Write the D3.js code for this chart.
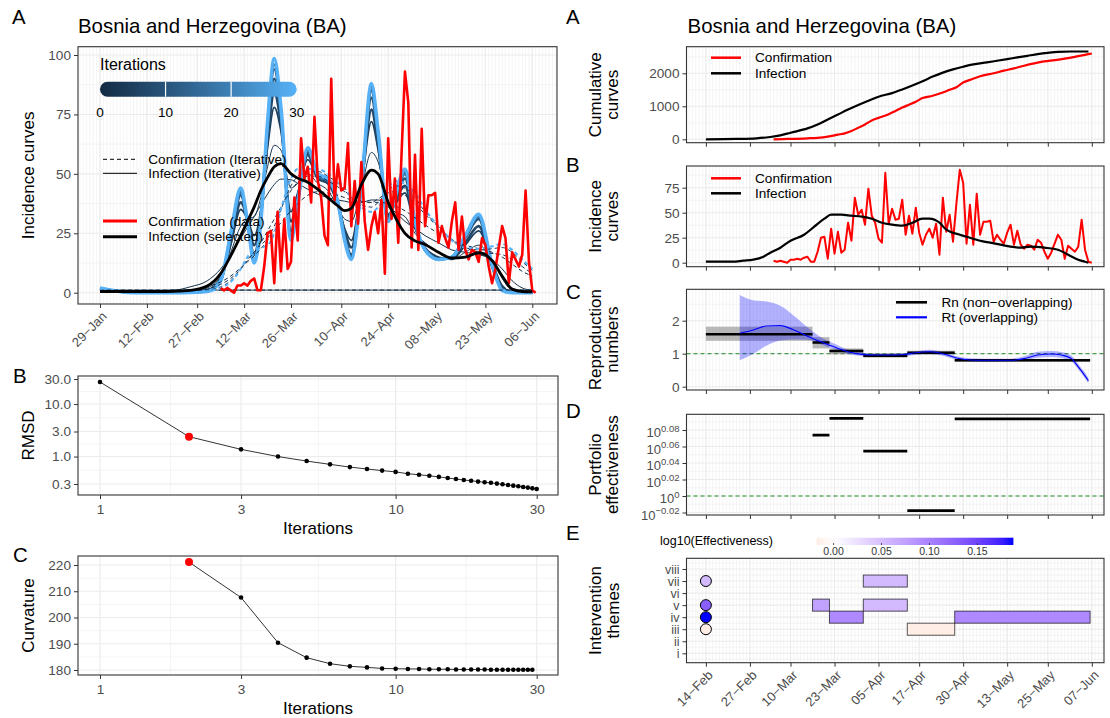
<!DOCTYPE html>
<html>
<head>
<meta charset="utf-8">
<title>Bosnia and Herzegovina (BA)</title>
<script src="https://cdn.jsdelivr.net/npm/d3@7/dist/d3.min.js"></script>
<style>
  body { margin: 0; background: #fff; }
  svg { display: block; }
</style>
</head>
<body>
<svg id="chart" width="1110" height="718"></svg>
<script>
// ---------------- data ----------------
const countryTitle = "Bosnia and Herzegovina (BA)";

// left A: iterative curves, read at these dates
const iterKnotDates = ["2020-01-29","2020-02-08","2020-02-15","2020-02-20","2020-02-25","2020-03-01","2020-03-05","2020-03-08","2020-03-11","2020-03-13",
  "2020-03-15","2020-03-17","2020-03-19","2020-03-21","2020-03-23","2020-03-26","2020-03-28","2020-03-31","2020-04-03","2020-04-06",
  "2020-04-09","2020-04-11","2020-04-13","2020-04-16","2020-04-19","2020-04-21","2020-04-24","2020-04-26","2020-04-29","2020-05-02",
  "2020-05-05","2020-05-09","2020-05-13","2020-05-17","2020-05-21","2020-05-25","2020-05-28","2020-05-31","2020-06-03","2020-06-06"];
const infectionIt0 = [1.1,1.1,1.1,1.1,1.1,1.1,1.1,1.1,1.1,1.1,1.1,1.1,1.1,1.1,1.1,1.1,1.1,1.1,1.1,1.1,1.1,1.1,1.1,1.1,1.1,1.1,1.1,1.1,1.1,1.1,1.1,1.1,1.1,1.1,1.1,1.1,1.1,1.1,1.1,1.1];
const infectionIt1 = [0.2,0.4,0.7,1.0,2.5,5,10,16,23,27.5,32,37,41.5,45.5,47.8,47.5,46,43.5,41.5,40,39,38.5,38,38,39,39,36,34,30,27,24,21,18,17,16,14,10,5,2,1];
const infectionIt2 = [0.5,0.5,0.5,0.6,1.0,2.8,8,15.5,24,30,36,43,48.5,53,54.3,50,48.2,46.5,43.5,40,36.5,34.5,35.5,45.5,51.6,50,38,32,25,21.8,20.3,17,14.6,15,16.8,13.5,7,1.5,0.5,0.4];
const infectionIt3 = [0.8,0.3,0.2,0.3,0.6,2,7,17,28,31,32,40,53,62,60,44,46,50,46,43,36,31,30,44,59,55,37,34,32,25,21,17,14,17,20,14,6,1,0.3,0.2];
const infectionIt5 = [1.2,0.2,0.1,0.1,0.3,1.2,6,20,35,31,24,35,61,78,68,34,42,56,48,46,37,27,22,45,72,60,33,37,42,27,19,15,14,20,26,13,3,0.3,0.1,0.1];
const infectionIt7 = [1.4,0.15,0.05,0.05,0.25,1,5.5,21,38,31,20,33,64,84,71,30,40,58,48,46,37,26,19,45,77,62,32,38,45,28,18.5,14.5,14.5,21,28,12,2,0.2,0.05,0.05];
const infectionIt10 = [1.7,0.1,0,0,0.2,0.8,5,23,41,30,16,32,68,90,74,26,39,59,49,47,38,24,16,46,82,65,31,39,48,29,18,14,15,23,31,11,1.5,0.1,0,0];
const infectionIt15 = [1.8,0.05,0,0,0.15,0.6,5,24,42,30,14,31,70,94,76,24,38,60,49,47,38,23,15,45,85,66,30,39,50,29,18,14,15,23.5,32,11.5,1.2,0.05,0,0];
const infectionIt20 = [1.9,0,0,0,0.1,0.55,5,24.5,43,30,13,30.5,71,96,77,23,38,60.5,49.5,47.5,38,22.5,14.5,45,86.5,67,30,39.5,51,29.5,18,14,15,24,32.5,12,1.1,0,0,0];
const infectionIt30 = [2,0,0,0,0.1,0.5,5,25,44,30,12.5,30,72,98.5,78,22,38,61,50,48,38,22,14,45,88,68,30,40,52,30,18,14,15,24,33,12,1,0,0,0];
const confirmIt0 = [1.1,1.1,1.1,1.1,1.1,1.1,1.1,1.1,1.1,1.1,1.1,1.1,1.1,1.1,1.1,1.1,1.1,1.1,1.1,1.1,1.1,1.1,1.1,1.1,1.1,1.1,1.1,1.1,1.1,1.1,1.1,1.1,1.1,1.1,1.1,1.1,1.1,1.1,1.1,1.1];
const confirmIt1 = [0.1,0.2,0.3,0.5,1,2.5,4.5,7,10.5,13,15.5,18.5,22,26,29.5,34.5,37.5,41,42.5,42,41,40,39,38,38,38,37.5,36.5,34.5,31.5,28.5,25,22,20,18.5,17,15,12,9,7];
const confirmIt2 = [0.3,0.3,0.3,0.4,0.6,1.5,3.5,6,10,13.5,17,21,26,31,36,43,46.5,49,49,47,44.5,42.5,40.5,38.5,38,39.5,42,42.5,41,37.5,33,27.5,22.5,19,17,16.5,16,14,11,8];
const confirmIt5 = [0.6,0.2,0.1,0.2,0.4,1,2.5,5,10,14,17,20,23,28,35,45,49,51,51,49,46,43,40,37,36,38,43,45,44,40,34,28,22,19,18,18.5,19,17,13,9.5];
const confirmIt30 = [1,0.1,0,0,0.2,0.6,2,4.5,10,15,18,19,20,25,35,48,52,52,52,50,47,44,40,36,34,36,44,47,46,42,35,28,22,19,18.5,19.5,20.5,18,14,10];
const selectedIter = 2;

// daily confirmed cases from 5 March
const confirmStart = "2020-03-05";
const confirmDaily = [2,1,2,1,0,3,3,4,3,5, 6,1,1,11,25,26,4,34,9,31, 10,13,40,22,65,48,53,38,74,47,
  40,24,20,90,39,54,43,44,63,28, 47,29,55,30,18,28,34,25,39,8, 65,31,48,21,59,93,80,19,58,18,
  69,28,41,41,42,21,28,23,19,30, 38,18,32,18,14,18,17,13,23,20, 11,4,10,19,28,23,4,17,14,11, 16,43,13,1,0];

const leftDateTicks = ["2020-01-29","2020-02-12","2020-02-27","2020-03-12","2020-03-26","2020-04-10","2020-04-24","2020-05-08","2020-05-23","2020-06-06"];
const iterLegendTicks = [0, 10, 20, 30];

// left B / C
const rmsdIter = [1,2,3,4,5,6,7,8,9,10,11,12,13,14,15,16,17,18,19,20,21,22,23,24,25,26,27,28,29,30];
const rmsdValues = [26.3,2.39,1.37,1.0,0.82,0.71,0.63,0.58,0.54,0.51,0.47,0.45,0.43,0.41,0.39,0.373,0.357,0.347,0.333,0.323,0.316,0.305,0.296,0.288,0.279,0.271,0.263,0.256,0.248,0.241];
const curvIter = [2,3,4,5,6,7,8,9,10,11,12,13,14,15,16,17,18,19,20,21,22,23,24,25,26,27,28,29];
const curvValues = [221.1,207.6,190.4,184.7,182.4,181.4,181.0,180.6,180.5,180.4,180.4,180.3,180.3,180.3,180.2,180.2,180.2,180.2,180.2,180.1,180.1,180.1,180.1,180.1,180.1,180.1,180.1,180.1];
const logIterTicks = [1, 3, 10, 30];
const rmsdTicks = [0.3, 1, 3, 10, 30];
const curvTicks = [180, 190, 200, 210, 220];

// right panels
const rightDateTicks = ["2020-02-14","2020-02-27","2020-03-10","2020-03-23","2020-04-05","2020-04-17","2020-04-30","2020-05-13","2020-05-25","2020-06-07"];
const cumInfDates = ["2020-02-14","2020-02-23","2020-02-29","2020-03-04","2020-03-07","2020-03-10","2020-03-15","2020-03-18","2020-03-21","2020-03-24","2020-03-27","2020-03-30","2020-04-02","2020-04-05","2020-04-09","2020-04-12","2020-04-15","2020-04-18","2020-04-21","2020-04-24","2020-04-27","2020-04-30","2020-05-03","2020-05-07","2020-05-10","2020-05-13","2020-05-16","2020-05-19","2020-05-22","2020-05-25","2020-05-28","2020-06-01","2020-06-06"];
const cumInfValues = [0,10,30,70,120,200,330,450,600,750,900,1040,1170,1290,1400,1510,1630,1760,1900,2020,2120,2200,2270,2330,2380,2430,2480,2530,2580,2620,2650,2660,2660];
const cumConfDates = ["2020-03-05","2020-03-09","2020-03-15","2020-03-18","2020-03-21","2020-03-24","2020-03-26","2020-03-28","2020-03-30","2020-04-01","2020-04-03","2020-04-05","2020-04-08","2020-04-10","2020-04-12","2020-04-14","2020-04-16","2020-04-18","2020-04-21","2020-04-24","2020-04-26","2020-04-28","2020-04-30","2020-05-02","2020-05-05","2020-05-09","2020-05-12","2020-05-15","2020-05-18","2020-05-21","2020-05-24","2020-05-27","2020-05-31","2020-06-03","2020-06-05","2020-06-07"];
const cumConfValues = [0,10,30,45,80,140,180,250,350,450,570,650,760,860,960,1050,1140,1250,1320,1420,1500,1580,1720,1800,1910,2000,2080,2150,2230,2300,2360,2400,2460,2520,2560,2600];
const incInfDates = ["2020-02-14","2020-02-22","2020-02-25","2020-02-28","2020-03-02","2020-03-04","2020-03-07","2020-03-10","2020-03-14","2020-03-17","2020-03-20","2020-03-22","2020-03-25","2020-03-28","2020-03-31","2020-04-03","2020-04-06","2020-04-09","2020-04-12","2020-04-15","2020-04-18","2020-04-20","2020-04-23","2020-04-25","2020-04-29","2020-05-02","2020-05-05","2020-05-08","2020-05-11","2020-05-14","2020-05-17","2020-05-20","2020-05-24","2020-05-28","2020-05-31","2020-06-03","2020-06-05","2020-06-06"];
const incInfValues = [1,1,2,3,6,10,15,22,28,36,44,48,48,47,46,44,40,38,37,40,44,44,40,33,28,25,22,20,18,16,15,16,15,13,8,3,1,0];

const rtDates = ["2020-02-24","2020-02-28","2020-03-03","2020-03-07","2020-03-11","2020-03-15","2020-03-19","2020-03-23","2020-03-27","2020-03-31","2020-04-04","2020-04-08","2020-04-12","2020-04-16","2020-04-20","2020-04-24","2020-04-28","2020-05-02","2020-05-06","2020-05-10","2020-05-14","2020-05-18","2020-05-22","2020-05-26","2020-05-29","2020-06-01","2020-06-03","2020-06-05","2020-06-06"];
const rtMid = [1.62,1.72,1.84,1.85,1.72,1.53,1.36,1.2,1.06,0.98,0.96,0.96,0.97,1.03,1.06,1.0,0.87,0.81,0.80,0.80,0.80,0.85,0.96,0.99,0.96,0.85,0.6,0.33,0.18];
const rtHigh = [2.78,2.62,2.58,2.45,2.15,1.8,1.5,1.3,1.12,1.04,1.0,1.0,1.01,1.07,1.12,1.05,0.92,0.86,0.85,0.85,0.85,0.92,1.06,1.08,1.05,0.94,0.68,0.42,0.26];
const rtLow = [0.8,1.0,1.25,1.4,1.43,1.42,1.28,1.13,1.0,0.93,0.91,0.91,0.92,0.97,1.0,0.94,0.82,0.76,0.75,0.75,0.76,0.8,0.88,0.9,0.87,0.76,0.52,0.25,0.1];

const rnStart = ["2020-02-14","2020-03-16T12:00Z","2020-03-21T12:00Z","2020-03-31T12:00Z","2020-04-13T12:00Z","2020-04-27T12:00Z"];
const rnEnd = ["2020-03-16T12:00Z","2020-03-21T12:00Z","2020-03-31T12:00Z","2020-04-13T12:00Z","2020-04-27T12:00Z","2020-06-06T12:00Z"];
const rnMid = [1.59,1.34,1.08,0.94,1.03,0.80];
const rnLow = [1.39,1.16,0.98,0.88,0.97,0.75];
const rnHigh = [1.82,1.50,1.16,1.01,1.09,0.84];

// portfolio effectiveness (log10) for the five intervention periods
const periodStart = ["2020-03-16T12:00Z","2020-03-21T12:00Z","2020-03-31T12:00Z","2020-04-13T12:00Z","2020-04-27T12:00Z"];
const periodEnd = ["2020-03-21T12:00Z","2020-03-31T12:00Z","2020-04-13T12:00Z","2020-04-27T12:00Z","2020-06-06T12:00Z"];
const periodLog10 = [0.0738, 0.094, 0.0544, -0.0177, 0.0935];

const themes = ["i","ii","iii","iv","v","vi","vii","viii"];
const boxTheme = ["v","iv","vii","v","iii","iv"];
const boxStart = ["2020-03-16T12:00Z","2020-03-21T12:00Z","2020-03-31T12:00Z","2020-03-31T12:00Z","2020-04-13T12:00Z","2020-04-27T12:00Z"];
const boxEnd = ["2020-03-21T12:00Z","2020-03-31T12:00Z","2020-04-13T12:00Z","2020-04-13T12:00Z","2020-04-27T12:00Z","2020-06-06T12:00Z"];
const boxValue = [0.0738, 0.094, 0.0544, 0.0544, -0.0177, 0.0935];
const dotTheme = ["vii","v","iv","iii"];
const dotValue = [0.0544, 0.128, 0.1875, -0.0177];
const dotDate = "2020-02-14";
const effLegendTicks = [0, 0.05, 0.10, 0.15];
const effExpTicks = [-0.02, 0, 0.02, 0.04, 0.06, 0.08];

// ---------------- drawing ----------------
const P = s => new Date(s);
const FONT = '"Liberation Sans", Arial, Helvetica, sans-serif';
const GRID = "#ebebeb", BORDER = "#333333", LAB = "#4d4d4d";
const svg = d3.select("#chart").attr("font-family", FONT);
const defs = svg.append("defs");

const LA = {x0: 78, x1: 557, y0: 46.7, y1: 304};
const LB = {x0: 78, x1: 558, y0: 376, y1: 495};
const LC = {x0: 78, x1: 558, y0: 556, y1: 675};
const RX0 = 686.5, RX1 = 1104;
const RA = {x0: RX0, x1: RX1, y0: 46.7, y1: 142.7};
const RB = {x0: RX0, x1: RX1, y0: 166, y1: 266.7};
const RC = {x0: RX0, x1: RX1, y0: 289.3, y1: 390};
const RD = {x0: RX0, x1: RX1, y0: 414.3, y1: 515};
const RE = {x0: RX0, x1: RX1, y0: 558.3, y1: 662.7};

let clipN = 0;
function panel(b) {
  const id = "clip" + (clipN++);
  defs.append("clipPath").attr("id", id).append("rect")
    .attr("x", b.x0).attr("y", b.y0).attr("width", b.x1 - b.x0).attr("height", b.y1 - b.y0);
  const g = svg.append("g");
  g.append("rect").attr("x", b.x0).attr("y", b.y0).attr("width", b.x1 - b.x0).attr("height", b.y1 - b.y0).attr("fill", "#fff");
  const grid = g.append("g").attr("clip-path", `url(#${id})`);
  const plot = g.append("g").attr("clip-path", `url(#${id})`);
  return {g, grid, plot, b};
}
function border(p) {
  const b = p.b;
  p.g.append("rect").attr("x", b.x0).attr("y", b.y0).attr("width", b.x1 - b.x0).attr("height", b.y1 - b.y0)
    .attr("fill", "none").attr("stroke", BORDER).attr("stroke-width", 1.1);
}
function vlines(p, xs, w) {
  p.grid.selectAll(null).data(xs).enter().append("line")
    .attr("x1", d => d).attr("x2", d => d).attr("y1", p.b.y0).attr("y2", p.b.y1)
    .attr("stroke", GRID).attr("stroke-width", w);
}
function hlines(p, ys, w) {
  p.grid.selectAll(null).data(ys).enter().append("line")
    .attr("y1", d => d).attr("y2", d => d).attr("x1", p.b.x0).attr("x2", p.b.x1)
    .attr("stroke", GRID).attr("stroke-width", w);
}
function dailyGrid(p, x, ticks) {
  const days = d3.utcDay.range(d3.utcDay.ceil(x.invert(p.b.x0)), x.invert(p.b.x1));
  vlines(p, days.map(x), 0.55);
  vlines(p, ticks.map(t => x(P(t))), 1.1);
}
function styleAxis(g, size) {
  g.attr("font-family", FONT).attr("font-size", size);
  g.select(".domain").remove();
  g.selectAll(".tick line").attr("stroke", BORDER).attr("stroke-width", 1);
  g.selectAll(".tick text").attr("fill", LAB);
  return g;
}
function rotateLabels(g) {
  g.selectAll(".tick text").attr("text-anchor", "end").attr("x", 0).attr("y", 0).attr("dy", "0.35em")
    .attr("transform", "translate(4,10) rotate(-45)");
}
function text(x, y, s, size, opts = {}) {
  const t = svg.append("text").attr("x", x).attr("y", y).attr("font-size", size).attr("fill", opts.fill || "#000").text(s);
  if (opts.anchor) t.attr("text-anchor", opts.anchor);
  if (opts.rotate) t.attr("transform", `rotate(-90,${x},${y})`);
  return t;
}
function ytitle(b, lines, xs) {
  const cy = (b.y0 + b.y1) / 2;
  lines.forEach((s, i) => text(xs[i], cy, s, 17, {anchor: "middle", rotate: true}));
}
const plain = d3.format("d");

// ======== Left A ========
const xL = d3.scaleUtc().domain([P("2020-01-29"), P("2020-06-06")]).range([100, 532.3]);
const yLA = d3.scaleLinear().domain([0, 100]).range([292.7, 55]);
const iterColor = d3.scaleLinear().domain([0, 30]).range(["#132B43", "#56B1F7"]).interpolate(d3.interpolateLab);
const pA = panel(LA);
dailyGrid(pA, xL, leftDateTicks);
hlines(pA, [12.5, 37.5, 62.5, 87.5].map(yLA), 0.55);
hlines(pA, [0, 25, 50, 75, 100].map(yLA), 1.1);

const knots = iterKnotDates.map(P);
const lineL = d3.line().x(d => xL(d[0])).y(d => yLA(d[1])).curve(d3.curveMonotoneX);
const infectionIters = [[0, infectionIt0], [1, infectionIt1], [2, infectionIt2], [3, infectionIt3], [5, infectionIt5],
  [7, infectionIt7], [10, infectionIt10], [15, infectionIt15], [20, infectionIt20], [30, infectionIt30]];
const confirmIters = [[0, confirmIt0], [1, confirmIt1], [2, confirmIt2], [5, confirmIt5], [30, confirmIt30]];
const iterWidth = k => k >= 30 ? 3.5 : k >= 7 ? 2.6 : k >= 5 ? 1.8 : 1;

pA.plot.selectAll(null).data(infectionIters).enter().append("path")
  .attr("d", d => lineL(d[1].map((v, i) => [knots[i], v])))
  .attr("fill", "none").attr("stroke", d => iterColor(d[0])).attr("stroke-width", d => iterWidth(d[0]))
  .attr("stroke-linejoin", "round");
pA.plot.selectAll(null).data(confirmIters).enter().append("path")
  .attr("d", d => lineL(d[1].map((v, i) => [knots[i], v])))
  .attr("fill", "none").attr("stroke", d => iterColor(d[0])).attr("stroke-width", d => d[0] >= 30 ? 2 : 1)
  .attr("stroke-dasharray", "4,3");

const confirmSeries = confirmDaily.map((v, i) => [d3.utcDay.offset(P(confirmStart), i), v]);
pA.plot.append("path").attr("d", d3.line().x(d => xL(d[0])).y(d => yLA(d[1]))(confirmSeries))
  .attr("fill", "none").attr("stroke", "#ff0000").attr("stroke-width", 2.6).attr("stroke-linejoin", "round");
const selected = infectionIters.find(d => d[0] === selectedIter)[1];
pA.plot.append("path").attr("d", lineL(selected.map((v, i) => [knots[i], v])))
  .attr("fill", "none").attr("stroke", "#000").attr("stroke-width", 2.8);

// legends inside A
text(100, 69.5, "Iterations", 16);
const legX = d3.scaleLinear().domain([0, 30]).range([100, 296.7]);
const ig = defs.append("linearGradient").attr("id", "iterGrad");
d3.range(0, 31, 5).forEach(k => ig.append("stop").attr("offset", (k / 30 * 100) + "%").attr("stop-color", iterColor(k)));
svg.append("rect").attr("x", legX(0)).attr("y", 81.7).attr("width", legX(30) - legX(0)).attr("height", 15)
  .attr("rx", 7.5).attr("fill", "url(#iterGrad)");
svg.selectAll(null).data(iterLegendTicks.slice(1, 3)).enter().append("line")
  .attr("x1", d => legX(d)).attr("x2", d => legX(d)).attr("y1", 81.7).attr("y2", 96.7)
  .attr("stroke", "#fff").attr("stroke-width", 1.2);
svg.selectAll(null).data(iterLegendTicks).enter().append("text")
  .attr("x", d => legX(d)).attr("y", 116.5).attr("text-anchor", "middle").attr("font-size", 13.6).text(d => d);

function legendKey(x1, x2, y, color, w, dash) {
  const l = svg.append("line").attr("x1", x1).attr("x2", x2).attr("y1", y).attr("y2", y)
    .attr("stroke", color).attr("stroke-width", w);
  if (dash) l.attr("stroke-dasharray", dash);
}
legendKey(103, 137, 159.3, "#000", 1, "4,3");
text(148.3, 164, "Confirmation (Iterative)", 13.6);
legendKey(103, 137, 173.3, "#000", 1);
text(148.3, 178, "Infection (Iterative)", 13.6);
legendKey(103, 137, 221, "#ff0000", 3);
text(148.3, 225.7, "Confirmation (data)", 13.6);
legendKey(103, 137, 236.7, "#000", 3);
text(148.3, 241.4, "Infection (selected)", 13.6);
border(pA);

const fmtDate = d3.utcFormat("%d\u2212%b");
const axA = svg.append("g").attr("transform", `translate(0,${LA.y1})`)
  .call(d3.axisBottom(xL).tickValues(leftDateTicks.map(P)).tickFormat(fmtDate).tickSize(4));
styleAxis(axA, 13);
rotateLabels(axA);
const ayA = svg.append("g").attr("transform", `translate(${LA.x0},0)`)
  .call(d3.axisLeft(yLA).tickValues([0, 25, 50, 75, 100]).tickFormat(plain).tickSize(4).tickPadding(3));
styleAxis(ayA, 13.6);
ytitle(LA, ["Incidence curves"], [34]);
text(78, 33.3, countryTitle, 20.4);
text(12, 24, "A", 20.4);

// ======== Left B ========
const xLog = d3.scaleLog().domain([1, 30]).range([100, 536.7]);
const yRmsd = d3.scaleLog().domain([0.3, 30]).range([484, 379]);
const pB = panel(LB);
vlines(pB, [Math.sqrt(3), Math.sqrt(30), Math.sqrt(300)].map(xLog), 0.55);
vlines(pB, logIterTicks.map(xLog), 1.1);
hlines(pB, [Math.sqrt(0.3), Math.sqrt(3), Math.sqrt(30), Math.sqrt(300)].map(yRmsd), 0.55);
hlines(pB, rmsdTicks.map(yRmsd), 1.1);
const rmsdPts = rmsdIter.map((k, i) => [k, rmsdValues[i]]);
pB.plot.append("path").attr("d", d3.line().x(d => xLog(d[0])).y(d => yRmsd(d[1]))(rmsdPts))
  .attr("fill", "none").attr("stroke", "#000").attr("stroke-width", 0.8);
pB.plot.selectAll(null).data(rmsdPts).enter().append("circle")
  .attr("cx", d => xLog(d[0])).attr("cy", d => yRmsd(d[1]))
  .attr("r", d => d[0] === selectedIter ? 4 : 2.3).attr("fill", d => d[0] === selectedIter ? "#ff0000" : "#000");
border(pB);
styleAxis(svg.append("g").attr("transform", `translate(0,${LB.y1})`)
  .call(d3.axisBottom(xLog).tickValues(logIterTicks).tickFormat(plain).tickSize(4).tickPadding(5)), 13.6);
styleAxis(svg.append("g").attr("transform", `translate(${LB.x0},0)`)
  .call(d3.axisLeft(yRmsd).tickValues(rmsdTicks).tickFormat(d3.format(".1f")).tickSize(4).tickPadding(3)), 13.6);
ytitle(LB, ["RMSD"], [34]);
text((LB.x0 + LB.x1) / 2, 534, "Iterations", 17, {anchor: "middle"});
text(13, 383, "B", 20.4);

// ======== Left C ========
const yCurv = d3.scaleLinear().domain([180, 220]).range([670, 565]);
const pC = panel(LC);
vlines(pC, [Math.sqrt(3), Math.sqrt(30), Math.sqrt(300)].map(xLog), 0.55);
vlines(pC, logIterTicks.map(xLog), 1.1);
hlines(pC, [175, 185, 195, 205, 215].map(yCurv), 0.55);
hlines(pC, curvTicks.map(yCurv), 1.1);
const curvPts = curvIter.map((k, i) => [k, curvValues[i]]);
pC.plot.append("path").attr("d", d3.line().x(d => xLog(d[0])).y(d => yCurv(d[1]))(curvPts))
  .attr("fill", "none").attr("stroke", "#000").attr("stroke-width", 0.8);
pC.plot.selectAll(null).data(curvPts).enter().append("circle")
  .attr("cx", d => xLog(d[0])).attr("cy", d => yCurv(d[1]))
  .attr("r", d => d[0] === selectedIter ? 4 : 2.3).attr("fill", d => d[0] === selectedIter ? "#ff0000" : "#000");
border(pC);
styleAxis(svg.append("g").attr("transform", `translate(0,${LC.y1})`)
  .call(d3.axisBottom(xLog).tickValues(logIterTicks).tickFormat(plain).tickSize(4).tickPadding(5)), 13.6);
styleAxis(svg.append("g").attr("transform", `translate(${LC.x0},0)`)
  .call(d3.axisLeft(yCurv).tickValues(curvTicks).tickFormat(plain).tickSize(4).tickPadding(3)), 13.6);
ytitle(LC, ["Curvature"], [34]);
text((LC.x0 + LC.x1) / 2, 714, "Iterations", 17, {anchor: "middle"});
text(13, 562, "C", 20.4);

// ======== Right panels ========
const xR = d3.scaleUtc().domain([P("2020-02-14"), P("2020-06-07")]).range([705.9, 1091.8]);
const rTicks = rightDateTicks.map(P);
function bottomTicks(b, withLabels) {
  const g = svg.append("g").attr("transform", `translate(0,${b.y1})`)
    .call(d3.axisBottom(xR).tickValues(rTicks).tickFormat(withLabels ? fmtDate : "").tickSize(4));
  styleAxis(g, 13);
  if (withLabels) rotateLabels(g);
}
const ytX = [601, 618.5];

// A: cumulative
const yRA = d3.scaleLinear().domain([0, 2000]).range([139.3, 73.3]);
const pRA = panel(RA);
dailyGrid(pRA, xR, rightDateTicks);
hlines(pRA, [500, 1500, 2500].map(yRA), 0.55);
hlines(pRA, [0, 1000, 2000].map(yRA), 1.1);
const lineRA = d3.line().x(d => xR(d[0])).y(d => yRA(d[1])).curve(d3.curveMonotoneX);
pRA.plot.append("path").attr("d", lineRA(cumConfDates.map((s, i) => [P(s), cumConfValues[i]])))
  .attr("fill", "none").attr("stroke", "#ff0000").attr("stroke-width", 2.2);
pRA.plot.append("path").attr("d", lineRA(cumInfDates.map((s, i) => [P(s), cumInfValues[i]])))
  .attr("fill", "none").attr("stroke", "#000").attr("stroke-width", 2.2);
legendKey(711, 741, 57.7, "#ff0000", 2.5);
text(755, 62.4, "Confirmation", 13.6);
legendKey(711, 741, 73.3, "#000", 2.5);
text(755, 78, "Infection", 13.6);
border(pRA);
bottomTicks(RA, false);
styleAxis(svg.append("g").attr("transform", `translate(${RX0},0)`)
  .call(d3.axisLeft(yRA).tickValues([0, 1000, 2000]).tickFormat(plain).tickSize(4).tickPadding(3)), 13.6);
ytitle(RA, ["Cumulative", "curves"], ytX);
text(687.6, 32.7, countryTitle, 20.4);
text(566, 24, "A", 20.4);

// B: incidence
const yRB = d3.scaleLinear().domain([0, 75]).range([262.7, 187.7]);
const pRB = panel(RB);
dailyGrid(pRB, xR, rightDateTicks);
hlines(pRB, [12.5, 37.5, 62.5, 87.5].map(yRB), 0.55);
hlines(pRB, [0, 25, 50, 75].map(yRB), 1.1);
pRB.plot.append("path").attr("d", d3.line().x(d => xR(d[0])).y(d => yRB(d[1]))(confirmSeries))
  .attr("fill", "none").attr("stroke", "#ff0000").attr("stroke-width", 2).attr("stroke-linejoin", "round");
pRB.plot.append("path").attr("d", d3.line().x(d => xR(d[0])).y(d => yRB(d[1])).curve(d3.curveMonotoneX)(incInfDates.map((s, i) => [P(s), incInfValues[i]])))
  .attr("fill", "none").attr("stroke", "#000").attr("stroke-width", 2.2);
legendKey(711, 741, 178.3, "#ff0000", 2.5);
text(755, 183, "Confirmation", 13.6);
legendKey(711, 741, 193.3, "#000", 2.5);
text(755, 198, "Infection", 13.6);
border(pRB);
bottomTicks(RB, false);
styleAxis(svg.append("g").attr("transform", `translate(${RX0},0)`)
  .call(d3.axisLeft(yRB).tickValues([0, 25, 50, 75]).tickFormat(plain).tickSize(4).tickPadding(3)), 13.6);
ytitle(RB, ["Incidence", "curves"], ytX);
text(566, 172, "B", 20.4);

// C: reproduction numbers
const yRC = d3.scaleLinear().domain([0, 2]).range([386.7, 320.7]);
const pRC = panel(RC);
dailyGrid(pRC, xR, rightDateTicks);
hlines(pRC, [0.5, 1.5, 2.5].map(yRC), 0.55);
hlines(pRC, [0, 1, 2].map(yRC), 1.1);
pRC.plot.append("line").attr("x1", RX0).attr("x2", RX1).attr("y1", yRC(1)).attr("y2", yRC(1))
  .attr("stroke", "#228B22").attr("stroke-width", 1).attr("stroke-dasharray", "4,3");
const rn = rnStart.map((s, i) => ({s: P(s), e: P(rnEnd[i]), m: rnMid[i], lo: rnLow[i], hi: rnHigh[i]}));
pRC.plot.selectAll(null).data(rn).enter().append("rect")
  .attr("x", d => xR(d.s)).attr("width", d => xR(d.e) - xR(d.s))
  .attr("y", d => yRC(d.hi)).attr("height", d => yRC(d.lo) - yRC(d.hi))
  .attr("fill", "#808080").attr("fill-opacity", 0.55);
const rt = rtDates.map((s, i) => ({d: P(s), m: rtMid[i], lo: rtLow[i], hi: rtHigh[i]}));
pRC.plot.append("path").attr("d", d3.area().x(d => xR(d.d)).y0(d => yRC(d.lo)).y1(d => yRC(d.hi)).curve(d3.curveMonotoneX)(rt))
  .attr("fill", "#0000ff").attr("fill-opacity", 0.3);
pRC.plot.selectAll(null).data(rn).enter().append("line")
  .attr("x1", d => xR(d.s)).attr("x2", d => xR(d.e)).attr("y1", d => yRC(d.m)).attr("y2", d => yRC(d.m))
  .attr("stroke", "#000").attr("stroke-width", 2.6);
pRC.plot.append("path").attr("d", d3.line().x(d => xR(d.d)).y(d => yRC(d.m)).curve(d3.curveMonotoneX)(rt))
  .attr("fill", "none").attr("stroke", "#0000ff").attr("stroke-width", 1.1);
legendKey(896, 927, 302.3, "#000", 2.6);
text(941.4, 307, "Rn (non\u2212overlapping)", 13.6);
legendKey(896, 927, 317.3, "#0000ff", 2.2);
text(941.4, 322, "Rt (overlapping)", 13.6);
border(pRC);
bottomTicks(RC, false);
styleAxis(svg.append("g").attr("transform", `translate(${RX0},0)`)
  .call(d3.axisLeft(yRC).tickValues([0, 1, 2]).tickFormat(plain).tickSize(4).tickPadding(3)), 13.6);
ytitle(RC, ["Reproduction", "numbers"], ytX);
text(566, 299.3, "C", 20.4);

// D: portfolio effectiveness
const yRD = d3.scaleLinear().domain([0, 0.08]).range([496, 430]);
const pRD = panel(RD);
dailyGrid(pRD, xR, rightDateTicks);
hlines(pRD, [-0.03, -0.01, 0.01, 0.03, 0.05, 0.07, 0.09].map(yRD), 0.55);
hlines(pRD, effExpTicks.map(yRD), 1.1);
pRD.plot.append("line").attr("x1", RX0).attr("x2", RX1).attr("y1", yRD(0)).attr("y2", yRD(0))
  .attr("stroke", "#228B22").attr("stroke-width", 1).attr("stroke-dasharray", "4,3");
pRD.plot.selectAll(null).data(periodStart.map((s, i) => [P(s), P(periodEnd[i]), periodLog10[i]])).enter().append("line")
  .attr("x1", d => xR(d[0])).attr("x2", d => xR(d[1])).attr("y1", d => yRD(d[2])).attr("y2", d => yRD(d[2]))
  .attr("stroke", "#000").attr("stroke-width", 2.8);
border(pRD);
bottomTicks(RD, false);
const ayD = svg.append("g").attr("transform", `translate(${RX0},0)`)
  .call(d3.axisLeft(yRD).tickValues(effExpTicks).tickSize(4).tickPadding(3));
styleAxis(ayD, 13);
ayD.selectAll(".tick text").each(function(d) {
  const t = d3.select(this).text(null).attr("dy", "0.5em");
  t.append("tspan").text("10");
  t.append("tspan").attr("dy", "-0.55em").attr("font-size", 9.5).text(d === 0 ? "0" : d3.format(".2f")(d).replace("-", "\u2212"));
});
ytitle(RD, ["Portfolio", "effectiveness"], ytX);
text(566, 418.3, "D", 20.4);

// E: intervention themes
const yRE = d3.scalePoint().domain(themes).range([653.3, 569]);
const step = yRE.step();
const effMax = d3.max([...boxValue, ...dotValue].map(Math.abs));
const effColor = d3.scaleLinear().domain([-effMax, 0, effMax]).range(["red", "white", "blue"]).interpolate(d3.interpolateLab);
const pRE = panel(RE);
dailyGrid(pRE, xR, rightDateTicks);
hlines(pRE, themes.map(t => yRE(t) + step / 2).concat([yRE("viii") - step / 2]), 0.55);
hlines(pRE, themes.map(yRE), 1.1);
pRE.plot.selectAll(null).data(boxTheme.map((t, i) => ({t, s: P(boxStart[i]), e: P(boxEnd[i]), v: boxValue[i]}))).enter().append("rect")
  .attr("x", d => xR(d.s)).attr("width", d => xR(d.e) - xR(d.s))
  .attr("y", d => yRE(d.t) - step / 2).attr("height", step)
  .attr("fill", d => effColor(d.v)).attr("stroke", "#000").attr("stroke-opacity", 0.65).attr("stroke-width", 1);
pRE.plot.selectAll(null).data(dotTheme.map((t, i) => ({t, v: dotValue[i]}))).enter().append("circle")
  .attr("cx", xR(P(dotDate))).attr("cy", d => yRE(d.t)).attr("r", 5.5)
  .attr("fill", d => effColor(d.v)).attr("stroke", "#000").attr("stroke-width", 1);
border(pRE);
bottomTicks(RE, true);
styleAxis(svg.append("g").attr("transform", `translate(${RX0},0)`)
  .call(d3.axisLeft(yRE).tickSize(4).tickPadding(3)), 12.5);
ytitle(RE, ["Intervention", "themes"], ytX);
text(566, 540, "E", 20.4);

// E colour legend
const effLo = d3.min([...boxValue, ...dotValue]), effHi = d3.max([...boxValue, ...dotValue]);
const effX = d3.scaleLinear().domain([effLo, effHi]).range([816.6, 1013.4]);
const eg = defs.append("linearGradient").attr("id", "effGrad");
d3.range(0, 1.0001, 0.05).forEach(f => {
  const v = effLo + f * (effHi - effLo);
  eg.append("stop").attr("offset", (f * 100) + "%").attr("stop-color", effColor(v));
});
svg.append("rect").attr("x", effX(effLo)).attr("y", 537.7).attr("width", effX(effHi) - effX(effLo)).attr("height", 7.3)
  .attr("fill", "url(#effGrad)");
svg.selectAll(null).data(effLegendTicks).enter().append("line")
  .attr("x1", d => effX(d)).attr("x2", d => effX(d)).attr("y1", 543).attr("y2", 545)
  .attr("stroke", "#333").attr("stroke-width", 0.8);
svg.selectAll(null).data(effLegendTicks).enter().append("text")
  .attr("x", d => effX(d)).attr("y", 554.5).attr("text-anchor", "middle").attr("font-size", 10.5).attr("fill", "#333")
  .text(d => d3.format(".2f")(d));
text(660, 545, "log10(Effectiveness)", 12.5);
</script>
</body>
</html>
